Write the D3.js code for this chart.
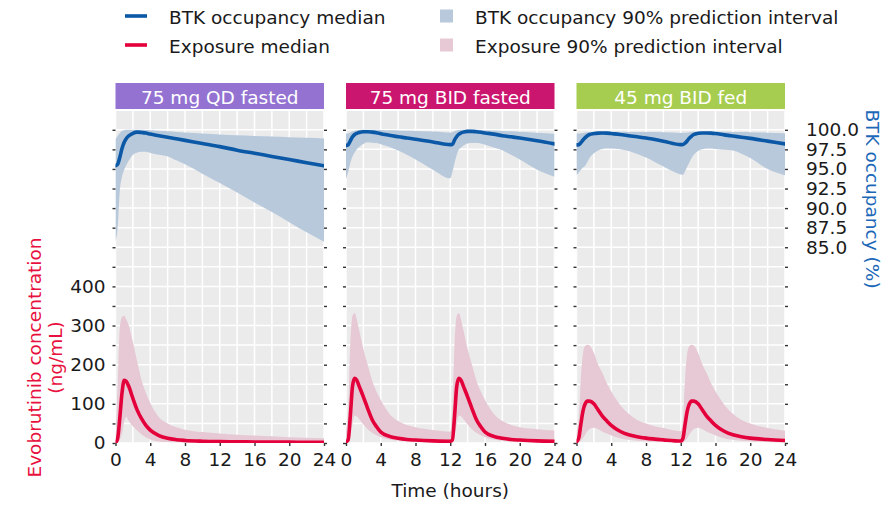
<!DOCTYPE html>
<html>
<head>
<meta charset="utf-8">
<script src="https://cdn.jsdelivr.net/npm/d3@7"></script>
<style>
  html, body { margin: 0; padding: 0; background: #fff; }
  svg text { font-family: "DejaVu Sans", Verdana, sans-serif; }
</style>
</head>
<body>
<svg id="chart" width="894" height="505"></svg>
<script>
// ---- Regimens (facets) ----
const regimens = ["75 mg QD fasted", "75 mg BID fasted", "45 mg BID fed"];
const stripColors = ["#9472d2", "#cb1670", "#a6cd4f"];

// ---- Time grids (hours after dose at steady state) ----
const hoursQD = [0, 0.25, 0.5, 0.75, 1, 1.25, 1.5, 2, 2.5, 3, 3.5, 4, 5, 6, 7, 8, 10, 12, 14, 16, 18, 20, 22, 24];
const hoursBID = [0, 0.25, 0.5, 0.75, 1, 1.25, 1.5, 2, 2.5, 3, 3.5, 4, 5, 6, 7, 8, 10, 12,
                  12.25, 12.5, 12.75, 13, 13.25, 13.5, 14, 14.5, 15, 15.5, 16, 17, 18, 19, 20, 22, 24];

// ---- Evobrutinib concentration (ng/mL): median and 90% PI ----
const concMedQD = [0, 12, 65, 128, 160, 157, 146, 114, 84, 62, 45, 33, 19, 12, 8.5, 6.5, 4.5, 3.5, 3, 2.7, 2.4, 2.2, 2, 1.8];
const concHiQD  = [10, 150, 295, 322, 325, 315, 302, 258, 208, 160, 128, 102, 66, 50, 40, 34, 28, 24, 21, 19, 17, 15, 13.5, 12];
const concLoQD  = [0, 2, 9, 24, 55, 67, 57, 43, 32, 22, 15, 9, 4, 2.5, 1.8, 1.4, 1, 0.8, 0.6, 0.5, 0.5, 0.4, 0.4, 0.3];

const concMedBIDfast = [3, 8, 70, 145, 165, 160, 146, 118, 88, 60, 42, 28, 17, 12, 9, 7.5, 5.5, 4.5,
                        8, 70, 145, 165, 160, 146, 118, 88, 60, 42, 28, 17, 12, 9, 7.5, 5.5, 4.5];
const concHiBIDfast  = [29, 90, 256, 325, 332, 315, 290, 240, 200, 160, 132, 110, 75, 56, 46, 40, 33, 29,
                        90, 256, 325, 332, 315, 290, 240, 200, 160, 132, 110, 75, 56, 46, 40, 35, 32];
const concLoBIDfast  = [0.5, 3, 20, 50, 70, 68, 62, 47, 35, 26, 20, 15, 9, 6, 4.5, 3.5, 2.5, 2,
                        3, 20, 50, 70, 68, 62, 47, 35, 26, 20, 15, 9, 6, 4.5, 3.5, 2.5, 2];

const concMedBIDfed = [3, 12, 48, 82, 100, 107, 107, 100, 84, 68, 56, 45, 30, 21, 16, 12.5, 8, 5,
                       12, 48, 82, 100, 107, 107, 100, 84, 68, 56, 45, 30, 21, 16, 12.5, 9, 6.5];
const concHiBIDfed  = [29, 60, 165, 230, 248, 251, 249, 230, 200, 178, 152, 132, 98, 75, 59, 50, 38, 30,
                       60, 165, 230, 248, 251, 249, 230, 200, 178, 152, 132, 98, 75, 59, 50, 38, 31];
const concLoBIDfed  = [0.5, 2, 6, 13, 22, 30, 36, 39, 35, 29, 24, 19, 12, 8, 5.5, 4, 2.5, 1.8,
                       2, 6, 13, 22, 30, 36, 39, 35, 29, 24, 19, 12, 8, 5.5, 4, 2.5, 1.8];

// ---- BTK occupancy (%): median and 90% PI ----
const occMedQD = [95.4, 95.6, 96.5, 97.6, 98.4, 98.9, 99.2, 99.55, 99.7, 99.65, 99.58, 99.45, 99.25, 99.05, 98.85, 98.65, 98.25, 97.85, 97.4, 97.0, 96.6, 96.2, 95.8, 95.4];
const occHiQD  = [98.8, 99.2, 99.6, 99.85, 99.95, 100, 100, 100, 100, 100, 99.98, 99.95, 99.88, 99.8, 99.73, 99.66, 99.52, 99.4, 99.3, 99.22, 99.14, 99.06, 98.98, 98.9];
const occLoQD  = [85.7, 87.5, 92.2, 94.0, 94.9, 95.5, 96.0, 96.8, 97.1, 97.2, 97.2, 97.05, 96.8, 96.6, 96.1, 95.6, 94.4, 93.2, 92.0, 90.7, 89.5, 88.2, 86.9, 85.7];

const occMedBIDfast = [98.0, 98.1, 98.6, 99.1, 99.4, 99.55, 99.65, 99.75, 99.75, 99.7, 99.62, 99.5, 99.3, 99.1, 98.95, 98.8, 98.45, 98.1,
                       98.15, 98.7, 99.15, 99.45, 99.6, 99.7, 99.8, 99.8, 99.75, 99.68, 99.6, 99.45, 99.25, 99.1, 98.95, 98.6, 98.2];
const occHiBIDfast  = [99.5, 99.55, 99.65, 99.8, 99.88, 99.93, 99.96, 100, 100, 100, 100, 99.98, 99.95, 99.92, 99.88, 99.85, 99.78, 99.65,
                       99.7, 99.8, 99.9, 99.96, 100, 100, 100, 100, 100, 99.98, 99.95, 99.9, 99.85, 99.8, 99.75, 99.62, 99.5];
const occLoBIDfast  = [93.7, 94.6, 95.8, 96.6, 97.1, 97.5, 97.8, 98.2, 98.4, 98.35, 98.3, 98.15, 97.8, 97.35, 96.8, 96.2, 94.9, 93.8,
                       94.6, 95.8, 96.8, 97.5, 97.75, 97.95, 98.25, 98.3, 98.3, 98.25, 98.1, 97.75, 97.4, 96.8, 96.2, 94.9, 94.0];

const occMedBIDfed = [98.07, 98.1, 98.35, 98.7, 99.0, 99.25, 99.4, 99.52, 99.58, 99.6, 99.58, 99.52, 99.4, 99.25, 99.1, 98.95, 98.55, 98.1,
                      98.12, 98.3, 98.6, 98.95, 99.2, 99.4, 99.55, 99.6, 99.6, 99.58, 99.52, 99.35, 99.2, 99.05, 98.9, 98.55, 98.2];
const occHiBIDfed  = [99.5, 99.52, 99.55, 99.6, 99.65, 99.68, 99.7, 99.72, 99.73, 99.74, 99.75, 99.75, 99.74, 99.73, 99.72, 99.72, 99.68, 99.6,
                      99.61, 99.62, 99.66, 99.7, 99.72, 99.74, 99.75, 99.75, 99.75, 99.75, 99.75, 99.74, 99.73, 99.72, 99.7, 99.63, 99.55];
const occLoBIDfed  = [94.2, 94.5, 94.9, 95.2, 95.4, 95.9, 96.4, 97.0, 97.35, 97.55, 97.6, 97.6, 97.5, 97.3, 96.9, 96.45, 95.3, 94.3,
                      94.25, 94.7, 95.3, 95.85, 96.4, 96.8, 97.3, 97.5, 97.6, 97.6, 97.55, 97.45, 97.35, 96.95, 96.4, 95.0, 94.2];

// ---- Axis ticks ----
const timeTicks = [0, 4, 8, 12, 16, 20, 24];
const timeGrid = d3.range(0, 25, 2);
const concTicks = d3.range(0, 801, 50);
const concLabels = [0, 100, 200, 300, 400];
const occLabels = [85.0, 87.5, 90.0, 92.5, 95.0, 97.5, 100.0];

// ---- Legend ----
const legendItems = [
  { label: "BTK occupancy median", kind: "line", color: "#0b58a6", col: 0, row: 0 },
  { label: "Exposure median", kind: "line", color: "#e4003b", col: 0, row: 1 },
  { label: "BTK occupancy 90% prediction interval", kind: "band", color: "#b8c9dc", col: 1, row: 0 },
  { label: "Exposure 90% prediction interval", kind: "band", color: "#e6c9d4", col: 1, row: 1 }
];

const panels = [
  { hours: hoursQD, cMed: concMedQD, cHi: concHiQD, cLo: concLoQD, oMed: occMedQD, oHi: occHiQD, oLo: occLoQD },
  { hours: hoursBID, cMed: concMedBIDfast, cHi: concHiBIDfast, cLo: concLoBIDfast, oMed: occMedBIDfast, oHi: occHiBIDfast, oLo: occLoBIDfast },
  { hours: hoursBID, cMed: concMedBIDfed, cHi: concHiBIDfed, cLo: concLoBIDfed, oMed: occMedBIDfed, oHi: occHiBIDfed, oLo: occLoBIDfed }
];

// ---- Layout ----
const COL = { blueLine: "#0b58a6", redLine: "#e4003b", blueBand: "#b8c9dc", pinkBand: "#e6c9d4",
              panelBg: "#ebebeb", grid: "#ffffff", text: "#1a1a1a", redTitle: "#e8103e", blueTitle: "#1c68b8" };
const FONT = 18.5;
const panelTop = 111, panelH = 332;
const panelLeft = 115.5, panelW = 208.5, panelGap = 22;
const stripH = 26, stripGap = 2;

const svg = d3.select("#chart");

const x = d3.scaleLinear().domain([0, 24]).range([0, panelW]);
const concMax = 848;
const yConc = d3.scaleLinear().domain([0, concMax]).range([panelH, 0]);
// BTK occupancy is plotted on a secondary axis: occupancy = 60 + concentration / 20
const yOcc = d3.scaleLinear().domain([60, 60 + concMax / 20]).range([panelH, 0]);

const areaC = (p) => d3.area().x((d, i) => x(p.hours[i])).y0((d, i) => yConc(p.cLo[i])).y1((d, i) => yConc(p.cHi[i])).curve(d3.curveMonotoneX);
const lineC = (p) => d3.line().x((d, i) => x(p.hours[i])).y((d, i) => yConc(p.cMed[i])).curve(d3.curveMonotoneX);
const areaO = (p) => d3.area().x((d, i) => x(p.hours[i])).y0((d, i) => yOcc(p.oLo[i])).y1((d, i) => yOcc(p.oHi[i])).curve(d3.curveMonotoneX);
const lineO = (p) => d3.line().x((d, i) => x(p.hours[i])).y((d, i) => yOcc(p.oMed[i])).curve(d3.curveMonotoneX);

const defs = svg.append("defs");

panels.forEach((p, i) => {
  const px = panelLeft + i * (panelW + panelGap);
  const g = svg.append("g").attr("transform", `translate(${px},${panelTop})`);

  defs.append("clipPath").attr("id", `clip${i}`)
    .append("rect").attr("width", panelW).attr("height", panelH);

  // strip
  svg.append("rect")
    .attr("x", px).attr("y", panelTop - stripGap - stripH)
    .attr("width", panelW).attr("height", stripH)
    .attr("fill", stripColors[i]);
  svg.append("text")
    .attr("x", px + panelW / 2).attr("y", panelTop - stripGap - stripH / 2 + 1)
    .attr("text-anchor", "middle").attr("dominant-baseline", "central")
    .attr("fill", "#fff").attr("font-size", FONT)
    .text(regimens[i]);

  const body = g.append("g").attr("clip-path", `url(#clip${i})`);
  body.append("rect").attr("width", panelW).attr("height", panelH).attr("fill", COL.panelBg);

  // grid
  body.selectAll("line.hg").data(concTicks).join("line")
    .attr("x1", 0).attr("x2", panelW)
    .attr("y1", d => yConc(d)).attr("y2", d => yConc(d))
    .attr("stroke", COL.grid).attr("stroke-width", 1.5);
  body.selectAll("line.vg").data(timeGrid).join("line")
    .attr("y1", 0).attr("y2", panelH)
    .attr("x1", d => x(d)).attr("x2", d => x(d))
    .attr("stroke", COL.grid).attr("stroke-width", 1.5);

  // bands
  body.append("path").datum(p.hours).attr("d", areaO(p)).attr("fill", COL.blueBand);
  body.append("path").datum(p.hours).attr("d", areaC(p)).attr("fill", COL.pinkBand);

  // medians
  body.append("path").datum(p.hours).attr("d", lineO(p))
    .attr("fill", "none").attr("stroke", COL.blueLine).attr("stroke-width", 3.6)
    .attr("stroke-linejoin", "round").attr("stroke-linecap", "round");
  body.append("path").datum(p.hours).attr("d", lineC(p))
    .attr("fill", "none").attr("stroke", COL.redLine).attr("stroke-width", 3.6)
    .attr("stroke-linejoin", "round").attr("stroke-linecap", "round");

  // left ticks (labels on first panel only)
  const left = g.append("g").call(
    d3.axisLeft(yConc).tickValues(concTicks).tickSize(3).tickPadding(7)
      .tickFormat(d => (i === 0 && concLabels.includes(d)) ? d3.format("d")(d) : ""));
  // right ticks (labels on last panel only)
  const right = g.append("g").attr("transform", `translate(${panelW},0)`).call(
    d3.axisRight(yOcc).tickValues(concTicks.map(c => 60 + c / 20)).tickSize(3).tickPadding(18)
      .tickFormat(d => (i === panels.length - 1 && occLabels.includes(d)) ? d3.format(".1f")(d) : ""));
  // bottom axis
  const bottom = g.append("g").attr("transform", `translate(0,${panelH})`).call(
    d3.axisBottom(x).tickValues(timeTicks).tickSize(3).tickPadding(7).tickFormat(d3.format("d")));

  [left, right, bottom].forEach(a => {
    a.select(".domain").remove();
    a.selectAll(".tick line").attr("stroke", "#333").attr("stroke-width", 1.4);
    a.selectAll(".tick text").attr("font-size", FONT).attr("fill", COL.text)
      .attr("font-family", "DejaVu Sans, Verdana, sans-serif");
  });
});

// axis titles
svg.append("text")
  .attr("transform", "translate(34.5,357.5) rotate(-90)")
  .attr("text-anchor", "middle").attr("dominant-baseline", "central")
  .attr("font-size", FONT).attr("fill", COL.redTitle)
  .text("Evobrutinib concentration");
svg.append("text")
  .attr("transform", "translate(55,357.5) rotate(-90)")
  .attr("text-anchor", "middle").attr("dominant-baseline", "central")
  .attr("font-size", FONT).attr("fill", COL.redTitle)
  .text("(ng/mL)");
svg.append("text")
  .attr("transform", `translate(872,199) rotate(90)`)
  .attr("text-anchor", "middle").attr("dominant-baseline", "central")
  .attr("font-size", FONT).attr("fill", COL.blueTitle)
  .text("BTK occupancy (%)");
svg.append("text")
  .attr("x", panelLeft + panelW * 1.5 + panelGap).attr("y", 490)
  .attr("text-anchor", "middle").attr("dominant-baseline", "central")
  .attr("font-size", FONT).attr("fill", COL.text)
  .text("Time (hours)");

// legend
const legX = [125, 440], legY = [16, 45];
const leg = svg.append("g");
legendItems.forEach(it => {
  const lx = legX[it.col], ly = legY[it.row];
  if (it.kind === "line") {
    leg.append("line").attr("x1", lx).attr("x2", lx + 22).attr("y1", ly).attr("y2", ly)
      .attr("stroke", it.color).attr("stroke-width", 3.6);
    leg.append("text").attr("x", lx + 44).attr("y", ly + 1)
      .attr("dominant-baseline", "central").attr("font-size", FONT).attr("fill", COL.text).text(it.label);
  } else {
    leg.append("rect").attr("x", lx).attr("y", ly - 6.5).attr("width", 13).attr("height", 13)
      .attr("fill", it.color);
    leg.append("text").attr("x", lx + 35).attr("y", ly + 1)
      .attr("dominant-baseline", "central").attr("font-size", FONT).attr("fill", COL.text).text(it.label);
  }
});
</script>
</body>
</html>
